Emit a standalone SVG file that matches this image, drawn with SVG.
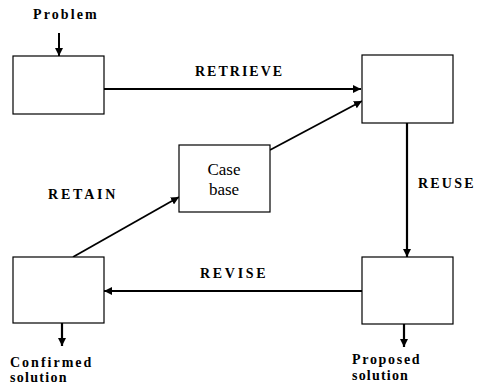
<svg xmlns="http://www.w3.org/2000/svg" width="479" height="385" viewBox="0 0 479 385">
<style>
.box{fill:#fff;stroke:#000;stroke-width:1.2}
.c{stroke:#000;fill:none}
.lbl{font-weight:bold;font-size:14px;fill:#000}
.cb{font-size:17px;fill:#000}
</style>
<defs>
<marker id="ah" markerUnits="userSpaceOnUse" markerWidth="10" markerHeight="8" refX="8" refY="4" orient="auto">
<path d="M0,0 L8,4 L0,8 z" fill="#000"/>
</marker>
</defs>
<rect width="479" height="385" fill="#fff"/>
<g id="connectors">
<line class="c" x1="59" y1="33" x2="59" y2="56" stroke-width="2" marker-end="url(#ah)"/>
<line class="c" x1="104" y1="89" x2="361" y2="89" stroke-width="2.2" marker-end="url(#ah)"/>
<line class="c" x1="270" y1="150" x2="362" y2="101" stroke-width="1.8" marker-end="url(#ah)"/>
<line class="c" x1="407" y1="123" x2="407" y2="257" stroke-width="2.2" marker-end="url(#ah)"/>
<line class="c" x1="362" y1="291" x2="104" y2="291" stroke-width="1.8" marker-end="url(#ah)"/>
<line class="c" x1="73" y1="257" x2="179" y2="197" stroke-width="1.8" marker-end="url(#ah)"/>
<line class="c" x1="62" y1="323" x2="62" y2="346" stroke-width="2.2" marker-end="url(#ah)"/>
<line class="c" x1="404" y1="324" x2="404" y2="347" stroke-width="2.2" marker-end="url(#ah)"/>
</g>
<g id="problem-box"><rect class="box" x="13" y="56" width="91" height="58"/></g>
<g id="retrieved-box"><rect class="box" x="362" y="55" width="91" height="68"/></g>
<g id="case-base"><rect class="box" x="179" y="145" width="91" height="67"/>
<text class="cb" font-family="Liberation Serif" x="224" y="175" text-anchor="middle" font-size="18">Case</text>
<text class="cb" font-family="Liberation Serif" x="224" y="195" text-anchor="middle" font-size="18">base</text></g>
<g id="confirmed-box"><rect class="box" x="13" y="257" width="91" height="66"/></g>
<g id="proposed-box"><rect class="box" x="362" y="257" width="91" height="67"/></g>
<g id="labels">
<text class="lbl" font-family="Liberation Serif" x="33" y="19" letter-spacing="2.1">Problem</text>
<text class="lbl" font-family="Liberation Serif" x="195" y="76" letter-spacing="2">RETRIEVE</text>
<text class="lbl" font-family="Liberation Serif" x="418" y="188" letter-spacing="2.2">REUSE</text>
<text class="lbl" font-family="Liberation Serif" x="48" y="199" letter-spacing="2.8">RETAIN</text>
<text class="lbl" font-family="Liberation Serif" x="200" y="278" letter-spacing="2.7">REVISE</text>
<text class="lbl" font-family="Liberation Serif" x="10" y="367" letter-spacing="2">Confirmed</text>
<text class="lbl" font-family="Liberation Serif" x="10" y="382" letter-spacing="1.3">solution</text>
<text class="lbl" font-family="Liberation Serif" x="352" y="364" letter-spacing="1.7">Proposed</text>
<text class="lbl" font-family="Liberation Serif" x="352" y="380" letter-spacing="1.2">solution</text>
</g>
</svg>
